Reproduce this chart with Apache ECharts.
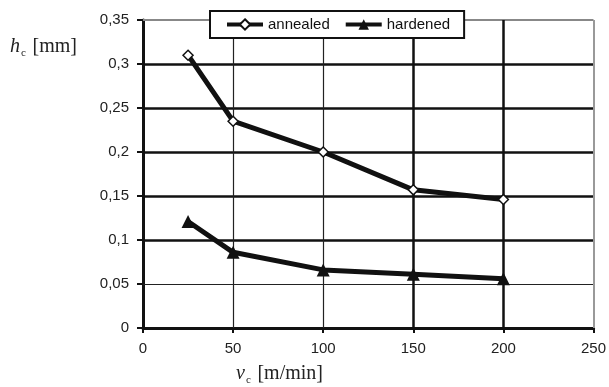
<!DOCTYPE html>
<html>
<head>
<meta charset="utf-8">
<script src="https://cdn.jsdelivr.net/npm/echarts@6/dist/echarts.min.js"></script>
<style>
  html, body { margin: 0; padding: 0; background: #fff; }
  #chart { width: 609px; height: 387px; }
</style>
</head>
<body>
<div id="chart"></div>
<script>
// cutting speed v_c [m/min]
const speeds = [25, 50, 100, 150, 200]
// chip thickness h_c [mm]
const annealed = [0.31, 0.235, 0.2, 0.157, 0.146]
const hardened = [0.121, 0.086, 0.066, 0.061, 0.056]
const seriesNames = ['annealed', 'hardened']

// grid lines as in the scanned figure (some heavier than others)
const yGridThick = [0.1, 0.15, 0.2, 0.25, 0.3]
const yGridThin = [0.05]
const yGridTop = [0.35]
const xGridThin = [50, 100]
const xGridThick = [150, 200]
const xGridRight = [250]

const pairs = (xs, ys) => xs.map((x, i) => [x, ys[i]])

const gridLines = []
const addLine = (key, v, color, width) =>
  gridLines.push({ [key]: v, lineStyle: { color: color, width: width, type: 'solid' } })
yGridThick.forEach(v => addLine('yAxis', v, '#111', 2.5))
yGridThin.forEach(v => addLine('yAxis', v, '#222', 1.2))
yGridTop.forEach(v => addLine('yAxis', v, '#888', 2))
xGridThin.forEach(v => addLine('xAxis', v, '#222', 1.2))
xGridThick.forEach(v => addLine('xAxis', v, '#111', 2.5))
xGridRight.forEach(v => addLine('xAxis', v, '#999', 2))

const labelFont = { fontFamily: 'Liberation Sans', fontSize: 15, color: '#222' }
const serifRich = {
  i: { fontFamily: 'Liberation Serif', fontStyle: 'italic', fontSize: 20, fill: '#222' },
  s: { fontFamily: 'Liberation Serif', fontSize: 11, fill: '#222', padding: [12, 0, 0, 1] },
  n: { fontFamily: 'Liberation Serif', fontSize: 20, fill: '#222' }
}

const option = {
  animation: false,
  backgroundColor: '#fff',
  grid: { left: 143, right: 11, top: 20, bottom: 59 },
  legend: {
    data: seriesNames,
    z: 20,
    left: 210,
    top: 11,
    backgroundColor: '#fff',
    borderColor: '#111',
    borderWidth: 2,
    borderRadius: 0,
    padding: [6, 14, 6, 15],
    itemGap: 14,
    itemWidth: 36,
    itemHeight: 13,
    lineStyle: { color: '#111', width: 4, type: 'solid' },
    textStyle: { fontFamily: 'Liberation Sans', fontSize: 15, color: '#111' }
  },
  xAxis: {
    type: 'value',
    min: 0,
    max: 250,
    interval: 50,
    axisLine: { lineStyle: { color: '#111', width: 3 } },
    axisTick: { show: true, inside: false, length: 5, lineStyle: { color: '#111', width: 2 } },
    axisLabel: Object.assign({ margin: 13 }, labelFont),
    splitLine: { show: false }
  },
  yAxis: {
    type: 'value',
    min: 0,
    max: 0.35,
    interval: 0.05,
    axisLine: { show: true, lineStyle: { color: '#111', width: 3 } },
    axisTick: { show: true, inside: false, length: 6, lineStyle: { color: '#111', width: 2 } },
    axisLabel: Object.assign({
      margin: 14,
      formatter: v => String(Math.round(v * 100) / 100).replace('.', ',')
    }, labelFont),
    splitLine: { show: false }
  },
  graphic: [
    {
      type: 'text',
      left: 10,
      top: 37,
      style: { text: '{i|h}{s|c}  {n|[mm]}', rich: serifRich }
    },
    {
      type: 'text',
      left: 236,
      top: 364,
      style: { text: '{i|v}{s|c}  {n|[m/min]}', rich: serifRich }
    }
  ],
  series: [
    {
      name: 'grid',
      type: 'line',
      data: [],
      silent: true,
      z: 1,
      markLine: {
        silent: true,
        symbol: 'none',
        label: { show: false },
        data: gridLines
      }
    },
    {
      name: seriesNames[0],
      type: 'line',
      data: pairs(speeds, annealed),
      z: 5,
      symbol: 'diamond',
      symbolSize: 10,
      lineStyle: { color: '#111', width: 5 },
      itemStyle: { color: '#fff', borderColor: '#111', borderWidth: 1.5 }
    },
    {
      name: seriesNames[1],
      type: 'line',
      data: pairs(speeds, hardened),
      z: 5,
      symbol: 'triangle',
      symbolSize: 13,
      lineStyle: { color: '#111', width: 5 },
      itemStyle: { color: '#111', borderColor: '#111', borderWidth: 0 }
    }
  ]
}

const myChart = echarts.init(document.getElementById('chart'))
myChart.setOption(option, true)
</script>
</body>
</html>
